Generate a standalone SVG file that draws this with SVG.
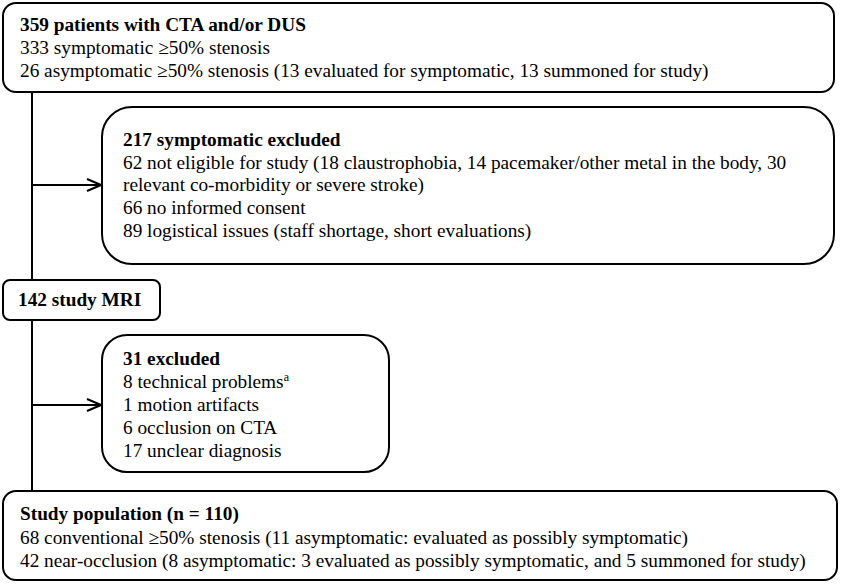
<svg xmlns="http://www.w3.org/2000/svg" width="843" height="584" viewBox="0 0 843 584">
<defs>
<style>
.box{fill:#fff;stroke:#000;stroke-width:2}
.t{font-family:"Liberation Serif","Times New Roman",serif;font-size:19.3px;fill:#000}
.b{font-weight:bold}
.ln{stroke:#000;stroke-width:2;fill:none}
</style>
<marker id="arr" markerWidth="16" markerHeight="14" refX="15" refY="7" orient="auto" markerUnits="userSpaceOnUse">
<path d="M1,1 L15,7 L1,13" fill="none" stroke="#000" stroke-width="2"/>
</marker>
</defs>
<rect width="843" height="584" fill="#fff"/>
<g id="connectors">
<line class="ln" x1="32" y1="92" x2="32" y2="280"/>
<line class="ln" x1="32" y1="320" x2="32" y2="491"/>
<line class="ln" x1="32" y1="185" x2="101" y2="185" marker-end="url(#arr)"/>
<line class="ln" x1="32" y1="405" x2="101" y2="405" marker-end="url(#arr)"/>
</g>
<g id="n1">
<rect class="box" x="3" y="3" width="831" height="89" rx="13"/>
<text class="t b" x="20" y="31">359 patients with CTA and/or DUS</text>
<text class="t" x="20" y="54">333 symptomatic ≥50% stenosis</text>
<text class="t" x="20" y="77">26 asymptomatic ≥50% stenosis (13 evaluated for symptomatic, 13 summoned for study)</text>
</g>
<g id="n2">
<rect class="box" x="102" y="107" width="732" height="157" rx="30"/>
<text class="t b" x="123" y="146">217 symptomatic excluded</text>
<text class="t" x="123" y="169">62 not eligible for study (18 claustrophobia, 14 pacemaker/other metal in the body, 30</text>
<text class="t" x="123" y="191">relevant co-morbidity or severe stroke)</text>
<text class="t" x="123" y="214">66 no informed consent</text>
<text class="t" x="123" y="237">89 logistical issues (staff shortage, short evaluations)</text>
</g>
<g id="n3">
<rect class="box" x="3" y="280" width="157" height="40" rx="7"/>
<text class="t b" x="18" y="306">142 study MRI</text>
</g>
<g id="n4">
<rect class="box" x="102" y="335" width="287" height="137" rx="25"/>
<text class="t b" x="123" y="365">31 excluded</text>
<text class="t" x="123" y="388">8 technical problems<tspan font-size="12" dy="-7">a</tspan></text>
<text class="t" x="123" y="411">1 motion artifacts</text>
<text class="t" x="123" y="434">6 occlusion on CTA</text>
<text class="t" x="123" y="457">17 unclear diagnosis</text>
</g>
<g id="n5">
<rect class="box" x="3" y="491" width="834" height="89" rx="13"/>
<text class="t b" x="20" y="520">Study population (n = 110)</text>
<text class="t" x="20" y="544">68 conventional ≥50% stenosis (11 asymptomatic: evaluated as possibly symptomatic)</text>
<text class="t" x="20" y="567">42 near-occlusion (8 asymptomatic: 3 evaluated as possibly symptomatic, and 5 summoned for study)</text>
</g>
</svg>
